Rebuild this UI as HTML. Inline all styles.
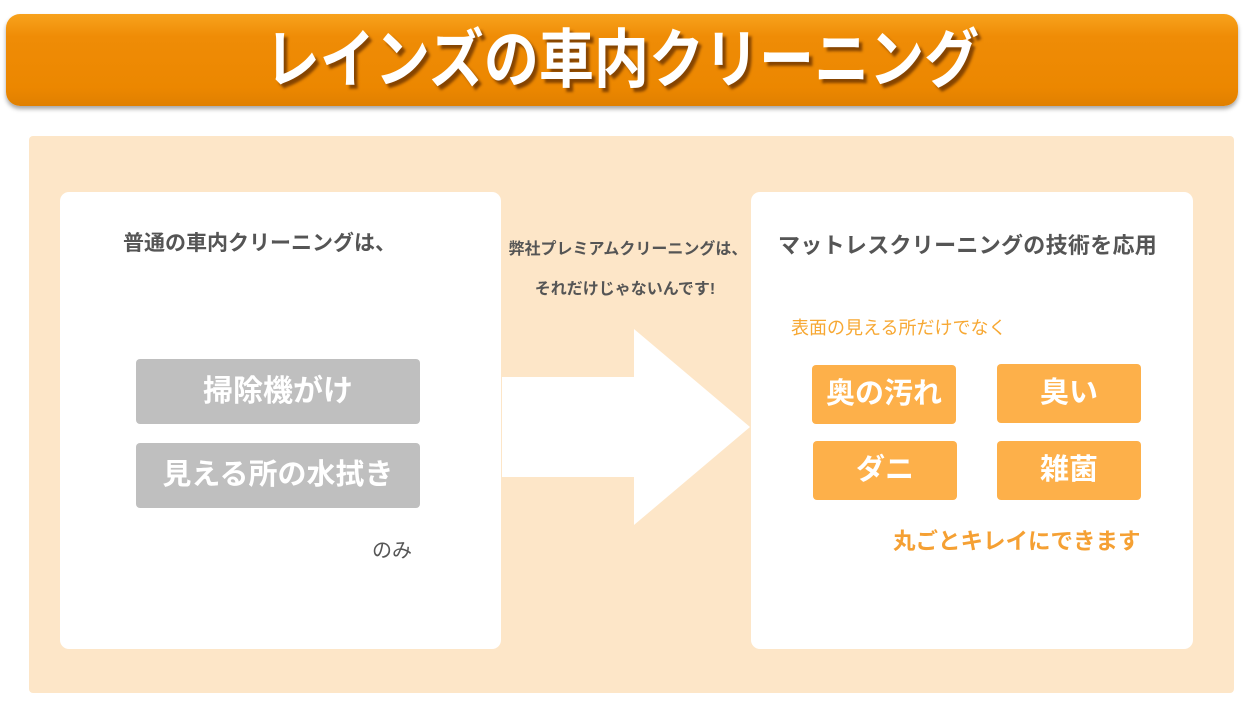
<!DOCTYPE html>
<html><head><meta charset="utf-8"><style>
*{margin:0;padding:0;box-sizing:border-box}
body{width:1244px;height:726px;background:#fff;position:relative;overflow:hidden;font-family:"Liberation Sans","Noto Sans CJK JP",sans-serif}
.a{position:absolute}
.hdr{left:6px;top:14px;width:1232px;height:92px;border-radius:14px;background:linear-gradient(#f8a21c 0%,#ef8c06 25%,#ec8700 80%,#e08000 100%);box-shadow:0 3px 4px rgba(0,0,0,.35)}
.title{left:0;top:14px;width:1244px;height:92px;line-height:92px;text-align:center;color:#fff;font-weight:bold;font-size:64px;text-shadow:4px 4px 3px rgba(90,40,0,.7);transform:scaleX(.86)}
.panel{left:29px;top:136px;width:1205px;height:557px;background:#fde6c8;border-radius:4px}
.box{background:#fff;border-radius:9px;top:192px;height:457px}
.t{white-space:nowrap;font-weight:bold;color:#555}
.g{background:#bfbfbf;color:#fff;font-weight:bold;font-size:29px;text-align:center;border-radius:4px}
.o{background:#fdb04a;color:#fff;font-weight:bold;font-size:29px;text-align:center;border-radius:4px;width:144px;height:59px;line-height:59px}
</style></head><body>
<div class="a hdr"></div>
<div class="a title">レインズの車内クリーニング</div>
<div class="a panel"></div>
<div class="a box" style="left:60px;width:441px"></div>
<div class="a box" style="left:751px;width:442px"></div>
<svg class="a" style="left:0;top:0" width="1244" height="726"><polygon points="502,377 634,377 634,329 750,427 634,525 634,477 502,477" fill="#fff"/></svg>
<div class="a t" style="left:123px;top:227px;font-size:21px">普通の車内クリーニングは、</div>
<div class="a g" style="left:136px;top:359px;width:284px;height:65px;line-height:65px;font-size:30px">掃除機がけ</div>
<div class="a g" style="left:136px;top:443px;width:284px;height:65px;line-height:65px">見える所の水拭き</div>
<div class="a" style="left:372px;top:534px;font-size:20px;color:#555">のみ</div>
<div class="a t" style="left:503px;width:250px;text-align:center;top:235px;font-size:16px">弊社プレミアムクリーニングは、</div>
<div class="a t" style="left:500px;width:250px;text-align:center;top:275px;font-size:16px">それだけじゃないんです!</div>
<div class="a t" style="left:778px;top:228px;font-size:22px;letter-spacing:.3px">マットレスクリーニングの技術を応用</div>
<div class="a" style="left:791px;top:314px;font-size:18px;color:#f7a833">表面の見える所だけでなく</div>
<div class="a o" style="left:812px;top:365px">奥の汚れ</div>
<div class="a o" style="left:997px;top:364px">臭い</div>
<div class="a o" style="left:813px;top:441px">ダニ</div>
<div class="a o" style="left:997px;top:441px">雑菌</div>
<div class="a t" style="left:893px;top:524px;font-size:22.5px;color:#f5a033">丸ごとキレイにできます</div>
</body></html>
